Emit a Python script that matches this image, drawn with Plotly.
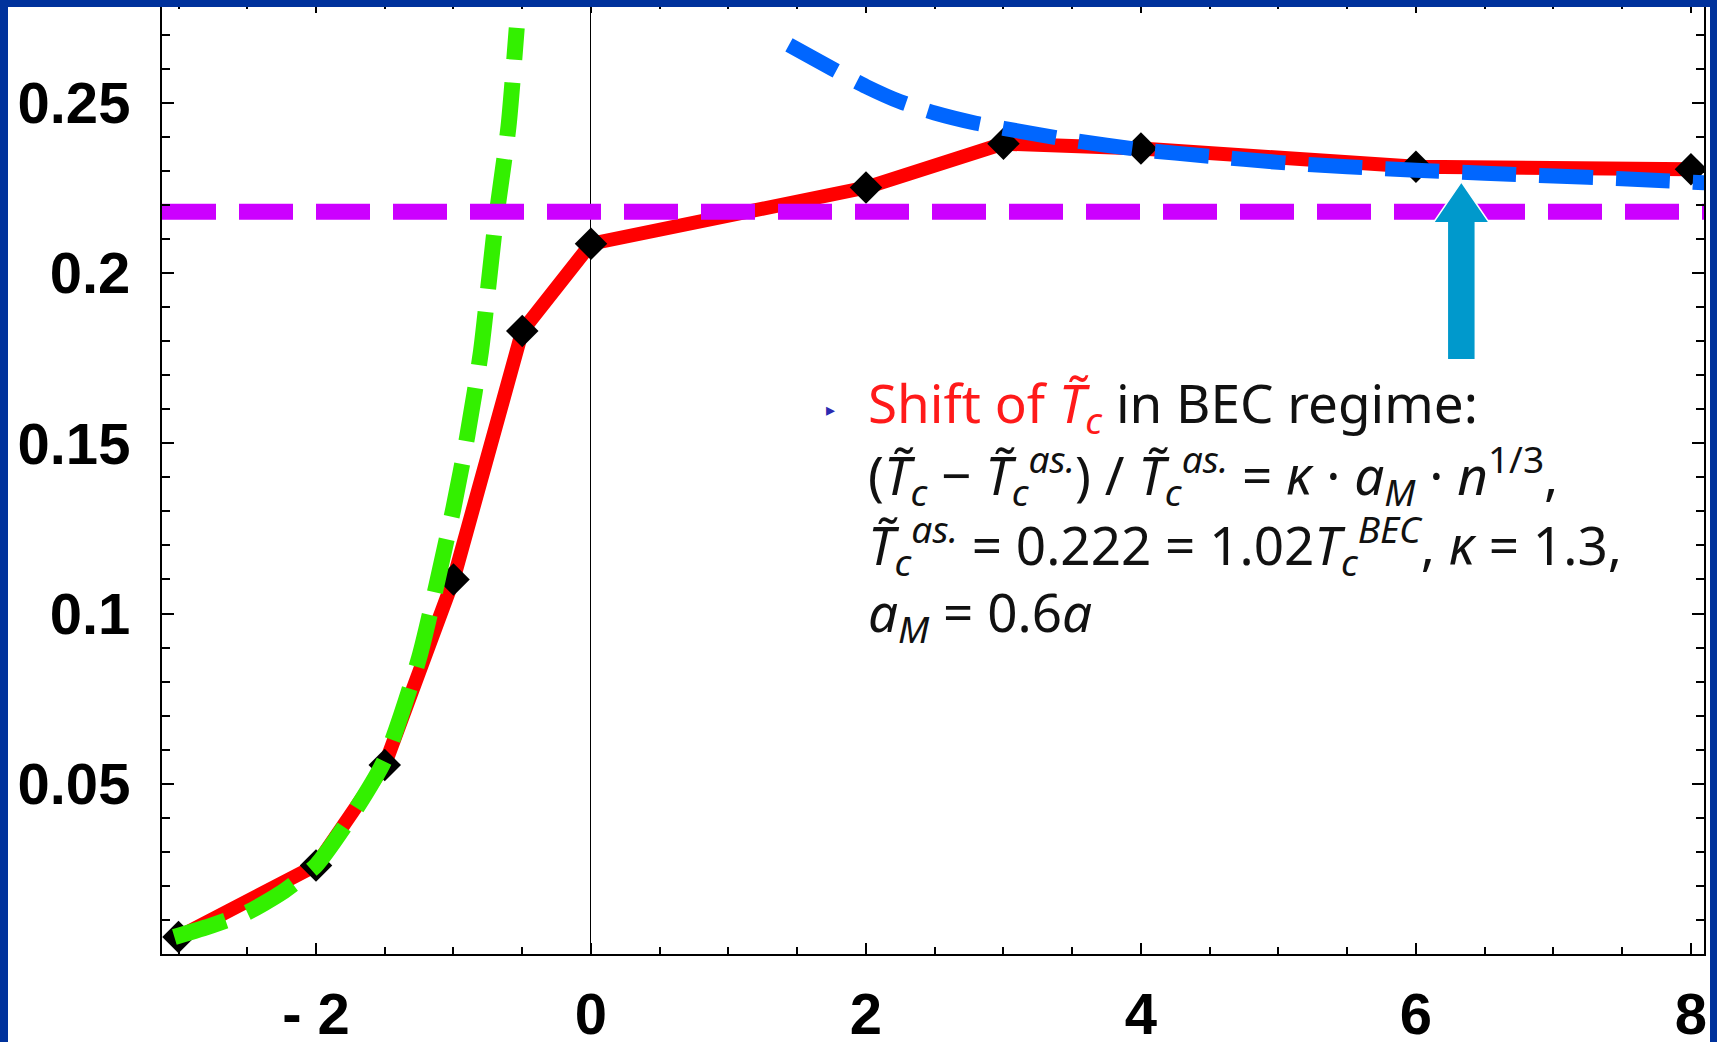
import plotly.graph_objects as go

# ---------------- data ----------------
# computed critical temperature (red line with black diamonds)
calc_x = [-3, -2, -1.5, -1, -0.5, 0, 2, 3, 4, 6, 8]
calc_y = [0.005, 0.026, 0.0555, 0.110, 0.183, 0.2086, 0.2251, 0.2380, 0.2366, 0.2312, 0.2305]

# BCS-side asymptote (green dashed)
bcs_x = [-3.03, -2.75, -2.5, -2.25, -2.0, -1.75, -1.5, -1.25, -1.0, -0.9, -0.8, -0.7, -0.6, -0.54]
bcs_y = [0.005, 0.0085, 0.0122, 0.0180, 0.0260, 0.0400, 0.0570, 0.0870, 0.1310, 0.1520, 0.1770, 0.2130, 0.2430, 0.2720]

# BEC-side shift formula (blue dashed)
bec_x = [1.44, 1.75, 2.0, 2.25, 2.5, 2.8, 3.0, 3.5, 4.0, 4.5, 5.0, 5.5, 6.0, 6.5, 7.0, 7.5, 8.1]
bec_y = [0.2670, 0.2601, 0.2548, 0.2503, 0.2470, 0.2440, 0.2425, 0.2390, 0.2362, 0.2343, 0.2325,
         0.2312, 0.2302, 0.2293, 0.2285, 0.2277, 0.2265]

# asymptotic BEC value (magenta dashed)
tc_asym = 0.218

# axes
x_range = [-3.12, 8.095]
y_range = [0.0, 0.2796]
x_tickvals = [-2, 0, 2, 4, 6, 8]
x_ticktext = ["- 2", "0", "2", "4", "6", "8"]
y_tickvals = [0.05, 0.1, 0.15, 0.2, 0.25]
y_ticktext = ["0.05", "0.1", "0.15", "0.2", "0.25"]

# arrow tip (data coordinates)
arrow_x, arrow_y = 6.33, 0.2268

# text block
text_lines = [
    "<span style='color:#ff1a1a'>Shift of <i>T\u0303</i><sub><i>c</i></sub></span> in BEC regime:",
    "(<i>T\u0303</i><sub><i>c</i></sub> \u2212 <i>T\u0303</i><sub><i>c</i></sub><sup><i>as.</i></sup>) / "
    "<i>T\u0303</i><sub><i>c</i></sub><sup><i>as.</i></sup> = <i>\u03ba</i> \u00b7 <i>a</i><sub><i>M</i></sub>"
    " \u00b7 <i>n</i><sup>1/3</sup>,",
    "<i>T\u0303</i><sub><i>c</i></sub><sup><i>as.</i></sup> = 0.222 = 1.02<i>T</i><sub><i>c</i></sub>"
    "<sup><i>BEC</i></sup>, <i>\u03ba</i> = 1.3,",
    "<i>a</i><sub><i>M</i></sub> = 0.6<i>a</i>",
]
text_x = 2.0
text_y = [0.1612, 0.1407, 0.1201, 0.0996]

W, H = 1717, 1042
L, R, T, B = 162, 13, 2, 88

DASH = "54px,23px"

fig = go.Figure()

fig.add_trace(go.Scatter(
    x=calc_x, y=calc_y, mode="lines+markers",
    line=dict(color="#ff0000", width=14),
    marker=dict(symbol="diamond", size=25, color="black"),
    hoverinfo="skip", showlegend=False))

fig.add_trace(go.Scatter(
    x=bcs_x, y=bcs_y, mode="lines",
    line=dict(color="#33f000", width=16, dash=DASH, shape="spline", smoothing=0.6),
    hoverinfo="skip", showlegend=False))

fig.add_trace(go.Scatter(
    x=bec_x, y=bec_y, mode="lines",
    line=dict(color="#0066ff", width=15, dash=DASH, shape="spline", smoothing=0.6),
    hoverinfo="skip", showlegend=False))

fig.add_trace(go.Scatter(
    x=x_range, y=[tc_asym, tc_asym], mode="lines",
    line=dict(color="#cc00ff", width=16, dash=DASH),
    hoverinfo="skip", showlegend=False))

tick_font = dict(family="Liberation Sans, Arial, sans-serif", size=58, color="black", weight="bold")

fig.update_xaxes(
    range=x_range, autorange=False, automargin=False,
    tickmode="array", tickvals=x_tickvals, ticktext=x_ticktext,
    ticks="inside", ticklen=11, tickwidth=2, tickcolor="black",
    minor=dict(tickmode="linear", tick0=0, dtick=0.5, ticks="inside", ticklen=7, tickwidth=2, tickcolor="black"),
    showline=True, linewidth=2, linecolor="black", mirror="allticks",
    showgrid=False, zeroline=True, zerolinecolor="black", zerolinewidth=1.3,
    tickfont=tick_font, ticklabelstandoff=8,
)
fig.update_yaxes(
    range=y_range, autorange=False, automargin=False,
    tickmode="array", tickvals=y_tickvals, ticktext=y_ticktext,
    ticks="inside", ticklen=12, tickwidth=2, tickcolor="black",
    minor=dict(tickmode="linear", tick0=0, dtick=0.01, ticks="inside", ticklen=8, tickwidth=2, tickcolor="black"),
    showline=True, linewidth=2, linecolor="black", mirror="allticks",
    showgrid=False, zeroline=False,
    tickfont=tick_font, ticklabelstandoff=18,
)

pw, ph = W - L - R, H - T - B


def px2paper_x(px):
    return (px - L) / pw


def px2paper_y(py):
    return (H - B - py) / ph


border = "#00329c"
shapes = [
    # arrow
    dict(type="path", xref="x", yref="y", xsizemode="pixel", ysizemode="pixel",
         xanchor=arrow_x, yanchor=arrow_y,
         path="M 0 0 L 28 -41 L 14 -41 L 14 -178 L -14 -178 L -14 -41 L -28 -41 Z",
         fillcolor="#0099cc", line=dict(color="white", width=1.5), layer="above"),
    # slide border (top, left, right)
    dict(type="rect", xref="paper", yref="paper", x0=px2paper_x(0), x1=px2paper_x(W),
         y0=px2paper_y(7), y1=px2paper_y(-5), fillcolor=border, line=dict(width=0), layer="above"),
    dict(type="rect", xref="paper", yref="paper", x0=px2paper_x(-5), x1=px2paper_x(8),
         y0=px2paper_y(H + 5), y1=px2paper_y(-5), fillcolor=border, line=dict(width=0), layer="above"),
    dict(type="rect", xref="paper", yref="paper", x0=px2paper_x(1710), x1=px2paper_x(W + 5),
         y0=px2paper_y(H + 5), y1=px2paper_y(-5), fillcolor=border, line=dict(width=0), layer="above"),
]

annotations = []
for txt, yy in zip(text_lines, text_y):
    annotations.append(dict(
        x=text_x, y=yy, xref="x", yref="y", xanchor="left", yanchor="middle",
        text=txt, showarrow=False, align="left",
        font=dict(family="Noto Sans, sans-serif", size=53, color="#111111")))
annotations.append(dict(
    x=1.745, y=0.1598, xref="x", yref="y", xanchor="center", yanchor="middle",
    text="\u25b8", showarrow=False, font=dict(family="DejaVu Sans", size=18, color="#2a2ab0")))

fig.update_layout(
    width=W, height=H,
    margin=dict(l=L, r=R, t=T, b=B, pad=0, autoexpand=False),
    paper_bgcolor="white", plot_bgcolor="white",
    shapes=shapes, annotations=annotations,
    showlegend=False,
)

fig.write_html("out.html", config={"displayModeBar": False})
